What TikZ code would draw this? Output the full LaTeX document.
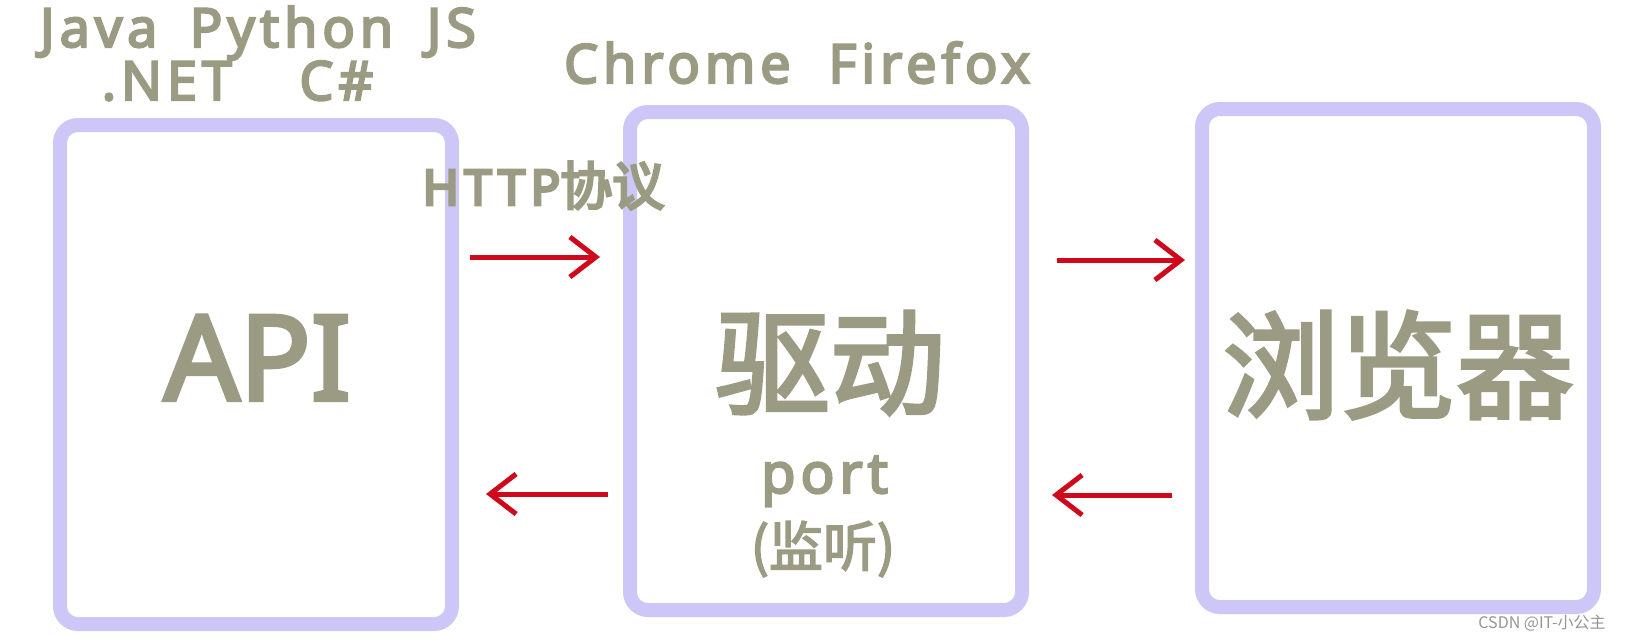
\documentclass[tikz,border=0pt]{standalone}
\usepackage{fontspec}
\setmainfont{Noto Sans}
\newfontfamily\lat{Noto Sans}[FakeBold=4, LetterSpace=9]
\newfontfamily\lath{Noto Sans}[FakeBold=6, LetterSpace=11]
\newfontfamily\latb{Noto Sans}[FakeBold=3.5]
\newfontfamily\cjk{Noto Sans CJK SC}[FakeBold=3]
\newfontfamily\cjkh{Noto Sans CJK SC}[FakeBold=5]
\newfontfamily\cjkr{Noto Sans CJK SC}
\usetikzlibrary{arrows.meta}
\definecolor{txtc}{RGB}{154,155,130}
\definecolor{boxc}{RGB}{204,199,247}
\definecolor{arrc}{RGB}{208,8,28}
\definecolor{wmc}{RGB}{150,150,150}
\tikzset{
  panel/.style={draw=boxc, line width=14pt, rounded corners=18pt, minimum width=392pt, minimum height=498pt, inner sep=0pt},
  lbl/.style={text=txtc, inner sep=0pt},
  flow/.style={draw=arrc, line width=5pt, -{Straight Barb[length=26pt,width=40pt,line width=5pt]}},
}
\begin{document}
\begin{tikzpicture}[x=1pt,y=-1pt]
\useasboundingbox (0,0) rectangle (1627,641);
\fill[white] (0,0) rectangle (1627,641);
% boxes
\node[panel, minimum height=499pt] (api) at (256,374.5) {};
\node[panel] (drv) at (826,361) {};
\node[panel] (brw) at (1398,358) {};
% top labels
\node[lbl, anchor=base, font=\lat\fontsize{54}{60}\selectfont] (langs) at (258,47) {Java\hspace{0.6em}Python\hspace{0.62em}JS};
\node[lbl, anchor=base, font=\lat\fontsize{54}{60}\selectfont] (langs2) at (237.5,100) {.NET\hspace{1.25em}C\#};
\node[lbl, anchor=base, font=\lat\fontsize{54}{60}\selectfont] (brws) at (797,83) {Chrome\hspace{0.7em}Firefox};
\node[lbl, anchor=base] (http) at (543.5,205) {{\lath\fontsize{49}{55}\selectfont HTTP}{\cjkh\fontsize{52}{55}\selectfont 协议}};
% main labels
\node[lbl, anchor=base, font=\latb\fontsize{118}{130}\selectfont] (apit) at (257.5,400) {API};
\node[lbl, font=\cjk\fontsize{115}{130}\selectfont] (drvt) at (830,363) {驱动};
\node[lbl, font=\cjk\fontsize{117}{130}\selectfont] (brwt) at (1398,365) {浏览器};
\node[lbl, anchor=base, font=\lat\fontsize{56}{60}\selectfont] (port) at (824.5,493) {port};
\node[lbl, font=\cjk\fontsize{54}{58}\selectfont] (listen) at (823,549) {(监听)};
% arrows
\coordinate (a1s) at (470,257); \coordinate (a1e) at (600,257);
\coordinate (a2s) at (608,494); \coordinate (a2e) at (486,494);
\coordinate (a3s) at (1057,260); \coordinate (a3e) at (1185,260);
\coordinate (a4s) at (1172,495); \coordinate (a4e) at (1052,495);
\draw[flow] (a1s) -- (a1e);
\draw[flow] (a2s) -- (a2e);
\draw[flow] (a3s) -- (a3e);
\draw[flow] (a4s) -- (a4e);
% watermark
\node[text=wmc, inner sep=0pt, font=\cjkr\fontsize{16}{18}\selectfont] (wm) at (1542,623) {CSDN @IT-小公主};
\end{tikzpicture}
\end{document}
